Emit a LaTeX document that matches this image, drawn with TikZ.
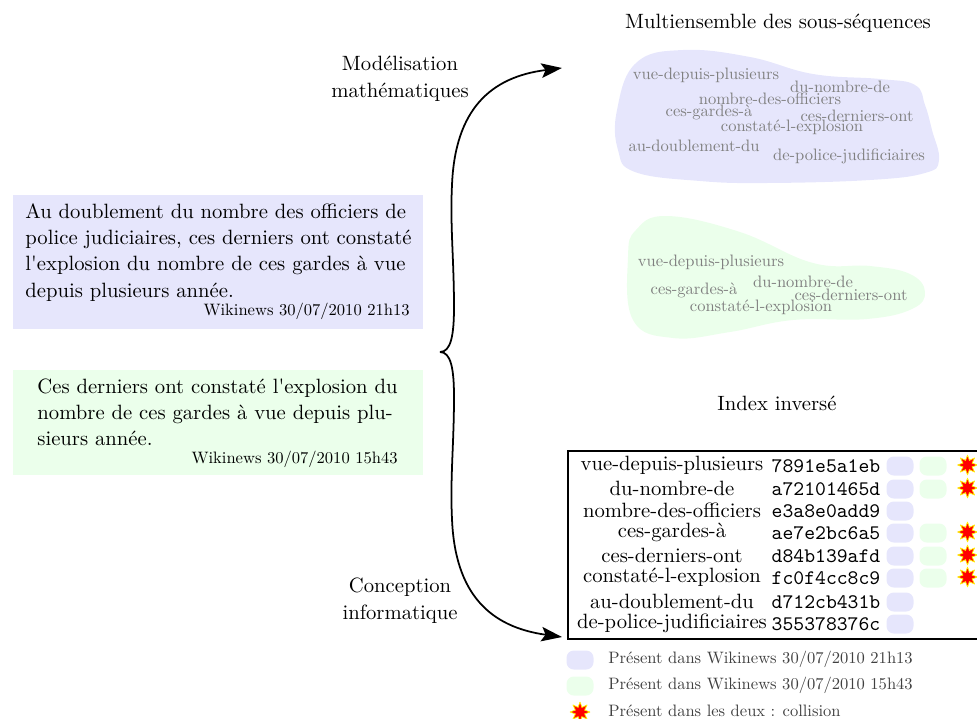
\documentclass[tikz,border=0pt]{standalone}
\usepackage{fontspec}
\defaultfontfeatures[\rmfamily]{Ligatures=Common}
\setmainfont{Latin Modern Roman}
\usetikzlibrary{arrows.meta,shapes.geometric}
\definecolor{blueset}{RGB}{230,230,252}
\definecolor{greenset}{RGB}{235,255,235}
\newcommand{\pxu}{*0.4835pt}
\newcommand{\smalltxt}[1]{\scalebox{0.8}{#1}}
\tikzset{
  seqword/.style={text=black!50,inner sep=0pt},
  rowword/.style={inner sep=0pt},
  hashword/.style={inner sep=0pt,font=\ttfamily},
  bluepill/.style={fill=blueset,rounded corners=3.5pt,minimum width=27\pxu,minimum height=19\pxu,inner sep=0pt},
  greenpill/.style={fill=greenset,rounded corners=3.5pt,minimum width=27\pxu,minimum height=19\pxu,inner sep=0pt},
  burst/.style={star,star points=8,star point ratio=2.0,fill=red,draw=yellow,line width=0.35pt,miter limit=2,minimum size=20\pxu,inner sep=0pt},
  legendword/.style={text=black!75,anchor=west,inner sep=0pt},
  titleword/.style={inner sep=0pt,align=center,font=\fontsize{10}{13}\selectfont},
  paraword/.style={inner sep=0pt,align=left,anchor=north west,font=\fontsize{10}{12.7}\selectfont},
  sigword/.style={inner sep=0pt,anchor=east},
  connector/.style={line width=0.85pt,-{Stealth[length=10pt,width=7pt,inset=2pt]}},
}
\begin{document}
\begin{tikzpicture}[x=0.4835pt,y=-0.4835pt]
\useasboundingbox (0,0) rectangle (977,718);
\clip (0,0) rectangle (977,718);
% blobs
\fill[blueset] plot[smooth cycle,tension=0.7] coordinates {(683,50) (636,63) (617,110) (618,150) (635,172) (700,181) (767,183) (870,180) (925,173) (939,160) (932,130) (925,105) (915,85) (880,79) (813,74) (750,57)};
\fill[greenset] plot[smooth cycle,tension=0.7] coordinates {(667,216) (636,230) (628,257) (633,320) (673,338) (730,332) (793,320) (867,319) (912,309) (925,292) (910,274) (870,266) (813,263) (740,232)};
% titles
\node[titleword] (t1) at (778,23) {Multiensemble des sous-séquences};
\node[titleword] (t2) at (777,403) {Index inversé};
\node[titleword] (t3) at (400,79) {Modélisation\\mathématiques};
\node[titleword] (t4) at (400,601) {Conception\\informatique};
% blue blob words
\node[seqword] (b1) at (706,75) {\smalltxt{vue-depuis-plusieurs}};
\node[seqword] (b2) at (840,87) {\smalltxt{du-nombre-de}};
\node[seqword] (b3) at (770,99) {\smalltxt{nombre-des-officiers}};
\node[seqword] (b4) at (709,112) {\smalltxt{ces-gardes-à}};
\node[seqword] (b5) at (857,116) {\smalltxt{ces-derniers-ont}};
\node[seqword] (b6) at (792,127) {\smalltxt{constaté-l-explosion}};
\node[seqword] (b7) at (694,146) {\smalltxt{au-doublement-du}};
\node[seqword] (b8) at (849,156) {\smalltxt{de-police-judificiaires}};
% green blob words
\node[seqword] (g1) at (711,262) {\smalltxt{vue-depuis-plusieurs}};
\node[seqword] (g2) at (803,282) {\smalltxt{du-nombre-de}};
\node[seqword] (g3) at (694,290) {\smalltxt{ces-gardes-à}};
\node[seqword] (g4) at (851,295) {\smalltxt{ces-derniers-ont}};
\node[seqword] (g5) at (761,307) {\smalltxt{constaté-l-explosion}};
% text boxes
\node[fill=blueset,minimum width=410\pxu,minimum height=134\pxu,inner sep=0pt] (sa) at (218,262) {};
\node[paraword] (sat) at (25,203) {Au doublement du nombre des officiers de\\police judiciaires, ces derniers ont constaté\\l'explosion du nombre de ces gardes à vue\\depuis plusieurs année.};
\node[sigword] (sas) at (410,311) {\smalltxt{Wikinews 30/07/2010 21h13}};
\node[fill=greenset,minimum width=410\pxu,minimum height=105\pxu,inner sep=0pt] (sb) at (218,422.5) {};
\node[paraword] (sbt) at (37,378) {Ces derniers ont constaté l'explosion du\\nombre de ces gardes à vue depuis plu-\\sieurs année.};
\node[sigword] (sbs) at (398,459) {\smalltxt{Wikinews 30/07/2010 15h43}};
% index table
\node[draw,line width=1pt,minimum width=420\pxu,minimum height=188\pxu,inner sep=0pt,anchor=north west] (tab) at (567,450) {};
\foreach \n/\yy/\w/\h in {1/465/vue-depuis-plusieurs/7891e5a1eb,2/488/du-nombre-de/a72101465d,3/510/nombre-des-officiers/e3a8e0add9,4/532/ces-gardes-à/ae7e2bc6a5,5/555/ces-derniers-ont/d84b139afd,6/577/constaté-l-explosion/fc0f4cc8c9,7/601/au-doublement-du/d712cb431b,8/623/de-police-judificiaires/355378376c}{
  \node[rowword] (w\n) at (672,\yy) {\w};
  \node[hashword] (h\n) at (826,\yy+1) {\h};
  \node[bluepill] (pb\n) at (900,\yy+1) {};
}
\foreach \n/\yy in {1/465,2/488,4/532,5/555,6/577}{
  \node[greenpill] (pg\n) at (933,\yy+1) {};
  \node[burst] (s\n) at (967.5,\yy) {};
}
% legend
\node[bluepill] (l1) at (580,660) {};
\node[greenpill] (l2) at (580,686) {};
\node[burst] (l3) at (580,712) {};
\node[legendword] (lt1) at (608,659) {\smalltxt{Présent dans Wikinews 30/07/2010 21h13}};
\node[legendword] (lt2) at (608,685) {\smalltxt{Présent dans Wikinews 30/07/2010 15h43}};
\node[legendword] (lt3) at (608,711) {\smalltxt{Présent dans les deux : collision}};
% brace connectors
\coordinate (brace) at (440,352);
\coordinate (top) at (562,68);
\coordinate (bot) at (562,637);
\draw[connector] (brace) .. controls (451,352) and (454,335) .. (454,307) .. controls (454,260) and (450,225) .. (452,185) .. controls (455,110) and (490,77) .. (top);
\draw[connector] (brace) .. controls (451,352) and (454,369) .. (454,397) .. controls (454,444) and (450,479) .. (452,519) .. controls (455,594) and (490,627) .. (bot);
\end{tikzpicture}
\end{document}
